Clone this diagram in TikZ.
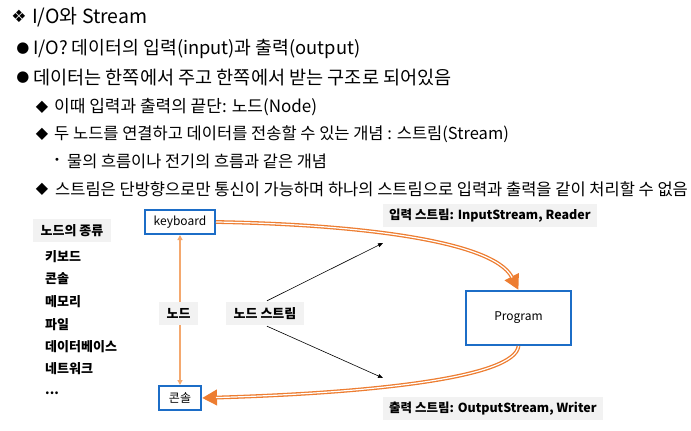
\documentclass[tikz,border=0pt]{standalone}
\usepackage{fontspec}
\setmainfont{Noto Sans CJK KR}
\newfontfamily\symfont{DejaVu Sans}
\usetikzlibrary{arrows.meta}
\definecolor{ppblue}{HTML}{1C6DC7}
\definecolor{pporange}{HTML}{ED7D31}
\definecolor{pplight}{HTML}{F4A86E}
\definecolor{ppgray}{HTML}{F2F2F2}
\tikzset{
  line/.style={anchor=west, inner sep=0pt},
  sym/.style={anchor=center, inner sep=0pt},
  bluebox/.style={draw=ppblue, line width=2pt, fill=white, inner sep=0pt, font=\fontsize{12}{14}\selectfont},
  graylabel/.style={fill=ppgray, inner sep=0pt, font=\bfseries\fontsize{12.5}{14}\selectfont},
  listitem/.style={anchor=west, inner sep=0pt, font=\bfseries\fontsize{13}{14}\selectfont},
  outerline/.style={draw=pporange, line width=3.8pt},
  innerline/.style={draw=white, line width=1.2pt},
}
\begin{document}
\begin{tikzpicture}[x=1pt,y=-1pt]
\useasboundingbox (0,0) rectangle (691,431);
% header text
\node[sym] (s0) at (19,16) {\symfont\fontsize{17}{18}\selectfont ❖};
\node[line] (t0) at (32,17) {\fontsize{19.5}{21}\selectfont I/O와 Stream};
\node[sym] (s1) at (23,49) {\symfont\fontsize{15}{16}\selectfont ●};
\node[line] (t1) at (33,49) {\fontsize{18.3}{20}\selectfont I/O? 데이터의 입력(input)과 출력(output)};
\node[sym] (s2) at (23,78) {\symfont\fontsize{15}{16}\selectfont ●};
\node[line] (t2) at (33,78) {\fontsize{18.6}{20}\selectfont 데이터는 한쪽에서 주고 한쪽에서 받는 구조로 되어있음};
\node[sym] (s3) at (42,107) {\symfont\fontsize{16}{17}\selectfont ◆};
\node[line] (t3) at (54,107) {\fontsize{17}{19}\selectfont 이때 입력과 출력의 끝단: 노드(Node)};
\node[sym] (s4) at (42,134) {\symfont\fontsize{16}{17}\selectfont ◆};
\node[line] (t4) at (54,134) {\fontsize{16.5}{18}\selectfont 두 노드를 연결하고 데이터를 전송할 수 있는 개념 : 스트림(Stream)};
\node[sym] (s5) at (57,161) {\symfont\fontsize{10}{11}\selectfont •};
\node[line] (t5) at (67,161) {\fontsize{16.4}{18}\selectfont 물의 흐름이나 전기의 흐름과 같은 개념};
\node[sym] (s6) at (42,189) {\symfont\fontsize{16}{17}\selectfont ◆};
\node[line] (t6) at (55,189) {\fontsize{16.5}{18}\selectfont 스트림은 단방향으로만 통신이 가능하며 하나의 스트림으로 입력과 출력을 같이 처리할 수 없음};
% left list
\node[graylabel, minimum width=78pt, minimum height=23pt, font=\bfseries\fontsize{13}{14}\selectfont] (kinds) at (72,230.5) {노드의 종류};
\node[listitem] (l1) at (45,257) {키보드};
\node[listitem] (l2) at (45,279) {콘솔};
\node[listitem] (l3) at (45,302) {메모리};
\node[listitem] (l4) at (45,325) {파일};
\node[listitem] (l5) at (45,347) {데이터베이스};
\node[listitem] (l6) at (45,369) {네트워크};
\node[listitem] (l7) at (45,393) {...};
% boxes
\node[bluebox, minimum width=70pt, minimum height=24pt] (kb) at (180,222) {keyboard};
\node[bluebox, minimum width=42pt, minimum height=24pt] (con) at (180,398) {콘솔};
\node[bluebox, minimum width=105pt, minimum height=54pt] (prog) at (518.5,318) {Program};
% vertical node arrow
\draw[pplight, line width=1.3pt, {Triangle[length=5pt,width=5pt]}-{Triangle[length=5pt,width=5pt]}] (kb.south) -- (con.north);
\node[graylabel, minimum width=39pt, minimum height=23pt, font=\bfseries\fontsize{13}{14}\selectfont] (nd) at (178.5,313.5) {노드};
\node[graylabel, minimum width=78pt, minimum height=23pt, font=\bfseries\fontsize{13}{14}\selectfont] (ns) at (265,313.5) {노드 스트림};
% labels
\node[graylabel, anchor=west, minimum height=23pt, inner xsep=6pt] (inl) at (383,215.5) {입력 스트림: InputStream, Reader};
\node[graylabel, anchor=west, minimum height=23pt, inner xsep=6pt] (outl) at (383,408.5) {출력 스트림: OutputStream, Writer};
% black arrows
\coordinate (a1) at (383,243);
\coordinate (a2) at (383,378);
\draw[line width=0.6pt, -{Triangle[length=5pt,width=4pt]}] (ns.north) ++(2,-1) -- (a1);
\draw[line width=0.6pt, -{Triangle[length=5pt,width=4pt]}] (ns.south) ++(2,1) -- (a2);
% orange double arrows
\draw[outerline, -{Triangle[length=15pt,width=15pt]}] (kb.east) .. controls (340,224) and (492,238) .. (prog.north);
\draw[innerline, shorten >=14pt] (kb.east) .. controls (340,224) and (492,238) .. (prog.north);
\draw[outerline, -{Triangle[length=15pt,width=15pt]}] (prog.south) .. controls (515,378) and (370,393) .. (con.east);
\draw[innerline, shorten >=14pt] (prog.south) .. controls (515,378) and (370,393) .. (con.east);
\end{tikzpicture}
\end{document}
